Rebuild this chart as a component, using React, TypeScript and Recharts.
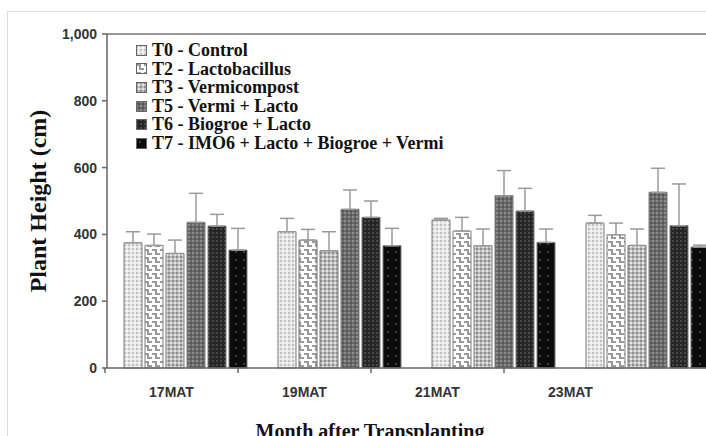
import { BarChart, Bar, XAxis, YAxis, ErrorBar, Legend, ReferenceLine } from 'recharts';

const months = ['17MAT', '19MAT', '21MAT', '23MAT'];

const t0 = [375, 408, 443, 434];
const t0Err = [33, 40, 5, 23];
const t2 = [367, 383, 410, 399];
const t2Err = [34, 32, 41, 35];
const t3 = [343, 351, 366, 367];
const t3Err = [40, 57, 50, 49];
const t5 = [436, 475, 516, 526];
const t5Err = [87, 58, 75, 72];
const t6 = [425, 451, 470, 426];
const t6Err = [35, 49, 68, 125];
const t7 = [353, 366, 376, 362];
const t7Err = [65, 52, 40, 6];

const yTicks = [0, 200, 400, 600, 800, 1000];

const series = [
  { key: 't0', name: 'T0 - Control', fill: 'url(#pT0)' },
  { key: 't2', name: 'T2 - Lactobacillus', fill: 'url(#pT2)' },
  { key: 't3', name: 'T3 - Vermicompost', fill: 'url(#pT3)' },
  { key: 't5', name: 'T5 - Vermi + Lacto', fill: 'url(#pT5)' },
  { key: 't6', name: 'T6 - Biogroe + Lacto', fill: 'url(#pT6)' },
  { key: 't7', name: 'T7 - IMO6 + Lacto + Biogroe + Vermi', fill: 'url(#pT7)' },
];

// error bars only go up, so low side is 0
const data = months.map((month, i) => ({
  month,
  t0: t0[i], t0Err: [0, t0Err[i]],
  t2: t2[i], t2Err: [0, t2Err[i]],
  t3: t3[i], t3Err: [0, t3Err[i]],
  t5: t5[i], t5Err: [0, t5Err[i]],
  t6: t6[i], t6Err: [0, t6Err[i]],
  t7: t7[i], t7Err: [0, t7Err[i]],
}));

const labelData = months.map((month) => ({ month }));

function Patterns() {
  return (
    <svg width={0} height={0} style={{ position: 'absolute' }}>
      <defs>
        <pattern id="pT0" width={4} height={4} patternUnits="userSpaceOnUse">
          <rect width={4} height={4} fill="#e6e6e6" />
          <rect width={2} height={2} fill="#c4c4c4" />
          <rect x={2} y={2} width={2} height={2} fill="#f4f4f4" />
        </pattern>
        <pattern id="pT2" width={8} height={8} patternUnits="userSpaceOnUse">
          <rect width={8} height={8} fill="#ffffff" />
          <path d="M0 2 H4 V6 H8" stroke="#9a9a9a" strokeWidth={2} fill="none" />
        </pattern>
        <pattern id="pT3" width={4} height={4} patternUnits="userSpaceOnUse">
          <rect width={4} height={4} fill="#bcbcbc" />
          <rect width={2} height={2} fill="#8e8e8e" />
          <rect x={2} y={2} width={2} height={2} fill="#e2e2e2" />
        </pattern>
        <pattern id="pT5" width={4} height={4} patternUnits="userSpaceOnUse">
          <rect width={4} height={4} fill="#6a6a6a" />
          <rect width={2} height={2} fill="#8a8a8a" />
          <rect x={2} y={2} width={2} height={2} fill="#575757" />
        </pattern>
        <pattern id="pT6" width={4} height={4} patternUnits="userSpaceOnUse">
          <rect width={4} height={4} fill="#262626" />
          <rect width={2} height={2} fill="#474747" />
        </pattern>
        <pattern id="pT7" width={8} height={8} patternUnits="userSpaceOnUse">
          <rect width={8} height={8} fill="#0c0c0c" />
          <circle cx={4} cy={4} r={1} fill="#4a4a4a" />
        </pattern>
      </defs>
    </svg>
  );
}

function LegendList({ payload }: any) {
  return (
    <div style={{ fontFamily: '"Liberation Serif", "Times New Roman", serif', fontWeight: 700, fontSize: 18, color: '#111' }}>
      {(payload || []).map((entry: any) => (
        <div key={entry.value} style={{ height: 18.6, lineHeight: '18.6px', display: 'flex', alignItems: 'center', whiteSpace: 'nowrap' }}>
          <svg width={11} height={11} style={{ marginRight: 5 }}>
            <rect x={0.5} y={0.5} width={10} height={10} fill={entry.color} stroke="#666" />
          </svg>
          <span>{entry.value}</span>
        </div>
      ))}
    </div>
  );
}

// label sits in the middle of its band, tick mark on the band's left edge
function MonthTick({ x, y, payload }: any) {
  const edge = x - (payload.offset || 0);
  return (
    <g>
      <line x1={edge} x2={edge} y1={y} y2={y + 5} stroke="#666" strokeWidth={1.5} />
      <text
        x={x}
        y={y + 29}
        textAnchor="middle"
        fontFamily='"Liberation Sans", sans-serif'
        fontWeight="bold"
        fontSize={14}
        fill="#333"
      >
        {payload.value}
      </text>
    </g>
  );
}

export default function App() {
  const tickFont = { fontFamily: '"Liberation Sans", sans-serif', fontWeight: 'bold', fontSize: 14, fill: '#333' };
  return (
    <div style={{ position: 'absolute', left: 0, top: 0, width: 706, height: 436, overflow: 'hidden', background: '#fff' }}>
      <Patterns />
      <div style={{ position: 'absolute', left: 7, top: 11, width: 800, height: 500, border: '1px solid #dedede' }} />
      <div style={{ position: 'absolute', left: 0, top: 0 }}>
        <BarChart
          width={740}
          height={436}
          data={data}
          margin={{ top: 34, right: 17, left: 0, bottom: 0 }}
          barCategoryGap={17}
          barGap={3}
        >
          <XAxis
            dataKey="month"
            height={68}
            tick={false}
            tickLine={false}
            stroke="#666"
            strokeWidth={1.5}
          />
          <YAxis
            domain={[0, 1000]}
            ticks={yTicks}
            width={107}
            tickSize={5}
            tickMargin={5}
            stroke="#666"
            strokeWidth={1.5}
            tick={tickFont}
            tickFormatter={(v: number) => v.toLocaleString('en-US')}
          />
          <ReferenceLine y={1000} stroke="#777" strokeWidth={1.5} />
          <Legend
            layout="horizontal"
            verticalAlign="middle"
            align="center"
            content={<LegendList />}
            wrapperStyle={{ left: 136, top: 41, width: 'auto' }}
          />
          {series.map((s) => (
            <Bar
              key={s.key}
              dataKey={s.key}
              name={s.name}
              fill={s.fill}
              stroke="#7a7a7a"
              strokeWidth={1}
              isAnimationActive={false}
            >
              <ErrorBar dataKey={`${s.key}Err`} width={7} stroke="#9a9a9a" strokeWidth={1.5} />
            </Bar>
          ))}
        </BarChart>
      </div>
      {/* month labels in the figure are spaced tighter than the bar groups */}
      <div style={{ position: 'absolute', left: 0, top: 0, pointerEvents: 'none' }}>
        <BarChart width={706} height={436} data={labelData} margin={{ top: 34, right: 69, left: 105, bottom: 0 }}>
          <XAxis
            dataKey="month"
            height={68}
            axisLine={false}
            tickLine={false}
            tickSize={0}
            tickMargin={0}
            interval={0}
            tick={<MonthTick />}
          />
          <YAxis hide domain={[0, 1000]} />
        </BarChart>
      </div>
      <div
        style={{
          position: 'absolute', left: -112, top: 188, width: 300, height: 26, lineHeight: '26px',
          transform: 'rotate(-90deg)', textAlign: 'center', whiteSpace: 'nowrap',
          fontFamily: '"Liberation Serif", serif', fontWeight: 'bold', fontSize: 24, color: '#111',
        }}
      >
        Plant Height (cm)
      </div>
      <div
        style={{
          position: 'absolute', left: 220, top: 420, width: 300, lineHeight: '23px', textAlign: 'center',
          fontFamily: '"Liberation Serif", serif', fontWeight: 'bold', fontSize: 20, color: '#111',
        }}
      >
        Month after Transplanting
      </div>
    </div>
  );
}
